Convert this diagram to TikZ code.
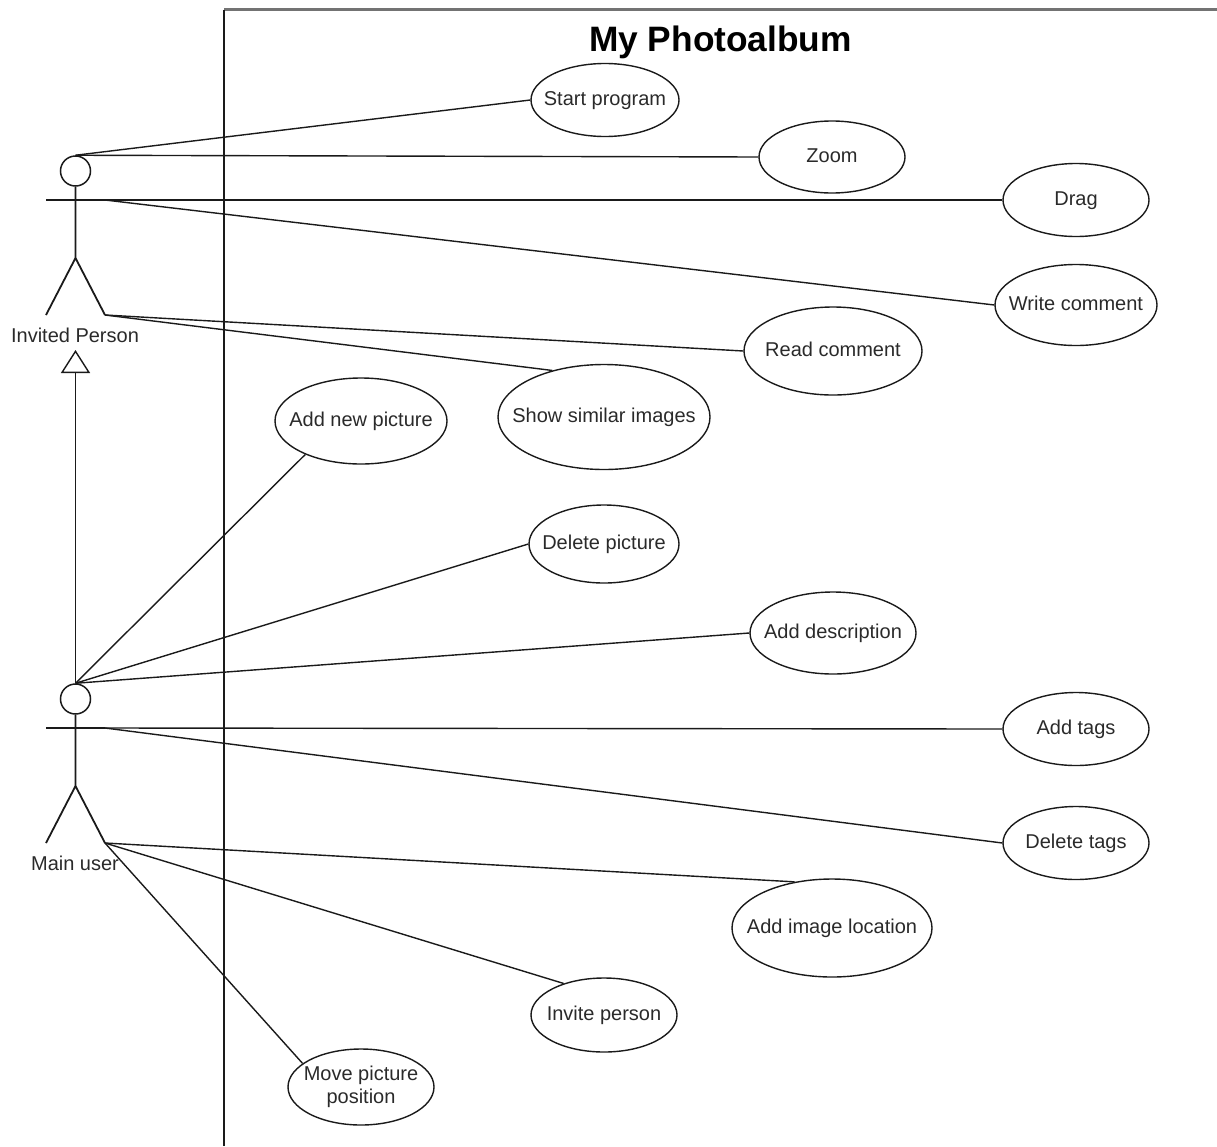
\documentclass[tikz,border=0pt]{standalone}
\usepackage{fontspec}
\setmainfont{Liberation Sans}
\usetikzlibrary{shapes.geometric,arrows.meta}
\definecolor{ink}{HTML}{1A1A1A}
\definecolor{txt}{HTML}{2A2A2A}
\tikzset{
  uc/.style={draw=ink,line width=1.4pt,ellipse,inner sep=0pt,text=txt,font=\fontsize{20}{24}\selectfont},
  actorlabel/.style={text=txt,inner sep=0pt,font=\fontsize{20}{24}\selectfont},
  link/.style={draw=ink,line width=1.4pt},
  stick/.style={draw=ink,line width=1.8pt,line join=miter},
  head/.style={draw=ink,line width=1.5pt,circle,minimum size=30pt,inner sep=0pt},
}
\newcommand{\usecase}[6]{\node[uc,minimum width=#4pt,minimum height=#5pt] (#1) at (#2,#3) {\makebox[0pt]{\smash{\raisebox{-5.5pt}{\begin{tabular}{@{}c@{}}#6\end{tabular}}}}};}
\begin{document}
\begin{tikzpicture}[x=1pt,y=-1pt]
\useasboundingbox (0,0) rectangle (1217,1146);
% system boundary
\coordinate (bb) at (224,1146);
\coordinate (bc) at (224,9.5);
\coordinate (be) at (1217,9.5);
\draw[draw=black!55,line width=2.6pt] (bc) -- (be);
\draw[draw=ink,line width=1.8pt] (bb) -- (bc);
\node[inner sep=0pt,font=\fontsize{35.3}{40}\selectfont\bfseries,text=black] (title) at (720.5,42) {My Photoalbum};
% actors
\node[head] (h1) at (75.5,171) {};
\coordinate (ia) at (46,200); \coordinate (ib) at (105,200);
\coordinate (ic) at (75.5,258); \coordinate (il) at (46,315); \coordinate (ir) at (105,315);
\draw[stick] (h1.south) -- (ic) (ia) -- (ib) (il) -- (ic) -- (ir);
\node[actorlabel] (lab1) at (75,335) {Invited Person};
\node[head] (h2) at (75.5,699) {};
\coordinate (ja) at (46,728); \coordinate (jb) at (105,728);
\coordinate (jc) at (75.5,786); \coordinate (jl) at (46,843); \coordinate (jr) at (105,843);
\draw[stick] (h2.south) -- (jc) (ja) -- (jb) (jl) -- (jc) -- (jr);
\node[actorlabel] (lab2) at (75,863) {Main user};
% generalisation
\coordinate (gt) at (75.5,350);
\draw[stick,-{Triangle[open,length=23pt,width=29pt,line width=1.4pt]}] (h2.north) -- (gt);
% use cases
\usecase{a}{605}{100}{148}{73}{Start program}
\usecase{b}{832}{157}{146}{72}{Zoom}
\usecase{c}{1076}{200}{146}{73}{Drag}
\usecase{d}{1076}{305}{162}{81}{Write comment}
\usecase{e}{833}{351}{178}{88}{Read comment}
\usecase{f}{604}{417}{212}{105}{Show similar images}
\usecase{g}{361}{421}{172}{86}{Add new picture}
\usecase{k}{604}{544}{150}{78}{Delete picture}
\usecase{l}{833}{633}{166}{82}{Add description}
\usecase{m}{1076}{729}{146}{73}{Add tags}
\usecase{n}{1076}{843}{146}{73}{Delete tags}
\usecase{o}{832}{928}{200}{98}{Add image location}
\usecase{p}{604}{1015}{146}{74}{Invite person}
\usecase{q}{361}{1087}{146}{76}{Move picture\\[-1pt]position}
% connectors
\draw[link] (h1.north) -- (a.west);
\draw[link] (h1.north) -- (b.west);
\draw[link] (ib) -- (c.west);
\draw[link] (ib) -- (d.west);
\draw[link] (ir) -- (e.west);
\draw[link] (ir) -- (f.138);
\draw[link] (h2.north) -- (g.211);
\draw[link] (h2.north) -- (k.west);
\draw[link] (h2.north) -- (l.west);
\draw[link] (jb) -- (m.west);
\draw[link] (jb) -- (n.west);
\draw[link] (jr) -- (o.129);
\draw[link] (jr) -- (p.142);
\draw[link] (jr) -- (q.158);
\end{tikzpicture}
\end{document}
